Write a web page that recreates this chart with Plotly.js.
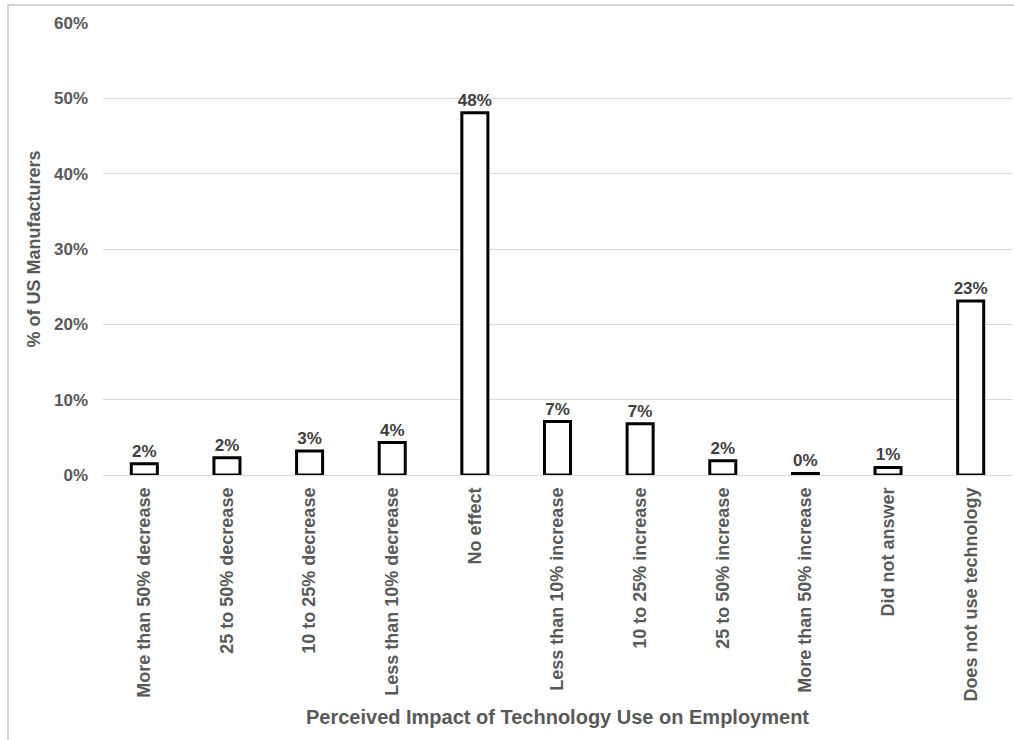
<!DOCTYPE html>
<html>
<head>
<meta charset="utf-8">
<script src="https://cdn.plot.ly/plotly-3.0.1.min.js"></script>
<style>
  html, body { margin: 0; padding: 0; background: #ffffff; overflow: hidden; }
  #frame { position: absolute; left: 7px; top: 4px; width: 1100px; height: 800px;
           border: 2px solid #d4d4d4; box-sizing: border-box; }
  #chart { position: absolute; left: 0; top: 0; width: 1014px; height: 740px; }
</style>
</head>
<body>
<div id="frame"></div>
<div id="chart"></div>
<script>
// Share of US manufacturers by perceived employment impact of technology use
const categories = [
  "More than 50% decrease",
  "25 to 50% decrease",
  "10 to 25% decrease",
  "Less than 10% decrease",
  "No effect",
  "Less than 10% increase",
  "10 to 25% increase",
  "25 to 50% increase",
  "More than 50% increase",
  "Did not answer",
  "Does not use technology"
];
const shares = [1.5, 2.3, 3.2, 4.3, 48.1, 7.1, 6.8, 1.9, 0.2, 1.0, 23.1];

const yTickValues = [0, 10, 20, 30, 40, 50, 60];
const yTickLabels = ["0%", "10%", "20%", "30%", "40%", "50%", "60%"];

const FONT = "Liberation Sans, Arial, sans-serif";

const trace = {
  type: "bar",
  x: categories,
  y: shares,
  marker: { color: "#ffffff", line: { color: "#000000", width: 3 } },
  texttemplate: "%{y:.0f}%",
  textposition: "outside",
  constraintext: "none",
  cliponaxis: false,
  textfont: { family: FONT, size: 17, color: "#404040", weight: 700 },
  hoverinfo: "x+y"
};

const layout = {
  width: 1014,
  height: 740,
  margin: { l: 103, r: 2, t: 23, b: 265 },
  paper_bgcolor: "rgba(0,0,0,0)",
  plot_bgcolor: "rgba(0,0,0,0)",
  bargap: 0.685,
  showlegend: false,
  font: { family: FONT, color: "#595959" },
  xaxis: {
    type: "category",
    tickangle: -90,
    tickfont: { family: FONT, size: 18, color: "#595959", weight: 700 },
    ticks: "",
    ticklabelstandoff: 8,
    showline: false,
    showgrid: false,
    zeroline: false,
    automargin: false,
    title: {
      text: "Perceived Impact of Technology Use on Employment",
      font: { family: FONT, size: 20, color: "#595959", weight: 700 },
      standoff: 9
    }
  },
  yaxis: {
    range: [0, 60],
    tickvals: yTickValues,
    ticktext: yTickLabels,
    tickfont: { family: FONT, size: 17, color: "#595959", weight: 700 },
    ticks: "",
    ticklabelstandoff: 14,
    showgrid: true,
    gridcolor: "#d9d9d9",
    gridwidth: 1,
    zeroline: true,
    zerolinecolor: "#d9d9d9",
    zerolinewidth: 1,
    showline: false,
    automargin: false,
    title: {
      text: "% of US Manufacturers",
      font: { family: FONT, size: 18, color: "#595959", weight: 700 },
      standoff: 8
    }
  }
};

Plotly.newPlot("chart", [trace], layout, { displayModeBar: false, staticPlot: true });
</script>
</body>
</html>
